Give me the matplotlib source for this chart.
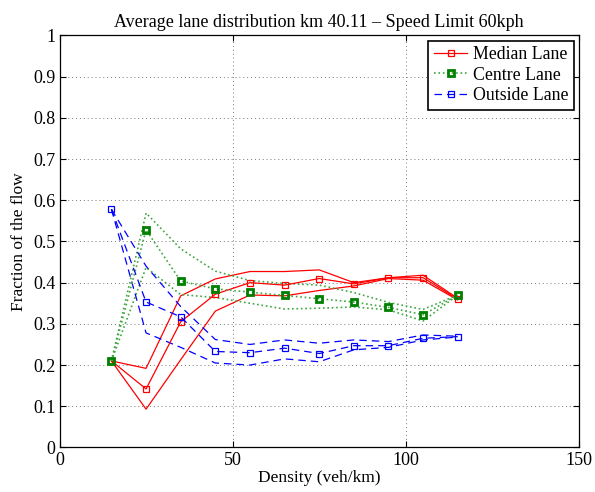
import numpy as np
import matplotlib
matplotlib.use('Agg')
import matplotlib.pyplot as plt

density = [15, 25, 35, 45, 55, 65, 75, 85, 95, 105, 115]

median_mean = [0.21, 0.142, 0.305, 0.372, 0.400, 0.394, 0.410, 0.397, 0.412, 0.412, 0.360]
median_upper = [0.21, 0.192, 0.368, 0.409, 0.427, 0.427, 0.431, 0.400, 0.412, 0.418, 0.362]
median_lower = [0.21, 0.093, 0.213, 0.331, 0.370, 0.368, 0.381, 0.392, 0.410, 0.406, 0.358]

centre_mean = [0.21, 0.528, 0.404, 0.385, 0.377, 0.369, 0.361, 0.353, 0.340, 0.322, 0.370]
centre_upper = [0.21, 0.569, 0.482, 0.428, 0.405, 0.398, 0.394, 0.376, 0.352, 0.335, 0.370]
centre_lower = [0.21, 0.437, 0.371, 0.364, 0.350, 0.336, 0.338, 0.341, 0.334, 0.307, 0.370]

outside_mean = [0.578, 0.353, 0.317, 0.233, 0.230, 0.241, 0.228, 0.247, 0.247, 0.265, 0.269]
outside_upper = [0.578, 0.440, 0.342, 0.262, 0.250, 0.261, 0.253, 0.261, 0.257, 0.273, 0.270]
outside_lower = [0.578, 0.278, 0.243, 0.205, 0.200, 0.215, 0.208, 0.237, 0.243, 0.261, 0.268]

plt.rcParams['font.family'] = ['Liberation Serif', 'DejaVu Serif']
plt.rcParams['font.size'] = 13

fig = plt.figure(figsize=(5.95, 4.92), dpi=100)
ax = fig.add_axes([0.1, 0.0905, 0.873, 0.8375])

red = (1, 0, 0)
green = (0, 0.5, 0)
green_line = (0.25, 0.65, 0.25)
blue = (0, 0, 1)

# bounds first, then the mean lines with markers
for y in (median_upper, median_lower):
    ax.plot(density, y, '-', color=red, lw=0.9)
for y in (centre_upper, centre_lower):
    ax.plot(density, y, ':', color=green_line, lw=1.2)
for y in (outside_upper, outside_lower):
    ax.plot(density, y, '--', color=blue, lw=0.9, dashes=(6, 4))

ax.plot(density, median_mean, '-', color=red, lw=0.9, marker='s', ms=5,
        mfc='none', mec=red, mew=0.9, label='Median Lane')
ax.plot(density, centre_mean, ':', color=green_line, lw=1.2, marker='s', ms=5,
        mfc='none', mec=green, mew=2, label='Centre Lane')
ax.plot(density, outside_mean, '--', color=blue, lw=0.9, dashes=(6, 4), marker='s', ms=5,
        mfc='none', mec=blue, mew=0.9, label='Outside Lane')

ax.set_xlim(0, 150)
ax.set_ylim(0, 1)
ax.set_xticks([0, 50, 100, 150])
ax.set_yticks(np.arange(0, 1.01, 0.1))
ax.set_yticklabels(['0', '0.1', '0.2', '0.3', '0.4', '0.5', '0.6', '0.7', '0.8', '0.9', '1'])
ax.tick_params(direction='in', top=True, right=True, length=4, width=0.8, labelsize=13, pad=3)
ax.grid(True, linestyle=(0, (1, 3)), color='#777777', lw=0.7)
for s in ax.spines.values():
    s.set_linewidth(0.9)

ax.set_xlabel('Density (veh/km)', fontsize=12.5, labelpad=1)
ax.set_ylabel('Fraction of the flow', fontsize=12.5, labelpad=4)
ax.set_title('Average lane distribution km 40.11 \u2013 Speed Limit 60kph', fontsize=13, pad=6)

leg = ax.legend(loc='upper right', fontsize=12.8, fancybox=False, framealpha=1,
                edgecolor='black', borderaxespad=0.3, handlelength=1.9,
                handletextpad=0.3, labelspacing=0.2, borderpad=0.3)
leg.get_frame().set_linewidth(1.2)

fig.savefig('out.png', dpi=100)
